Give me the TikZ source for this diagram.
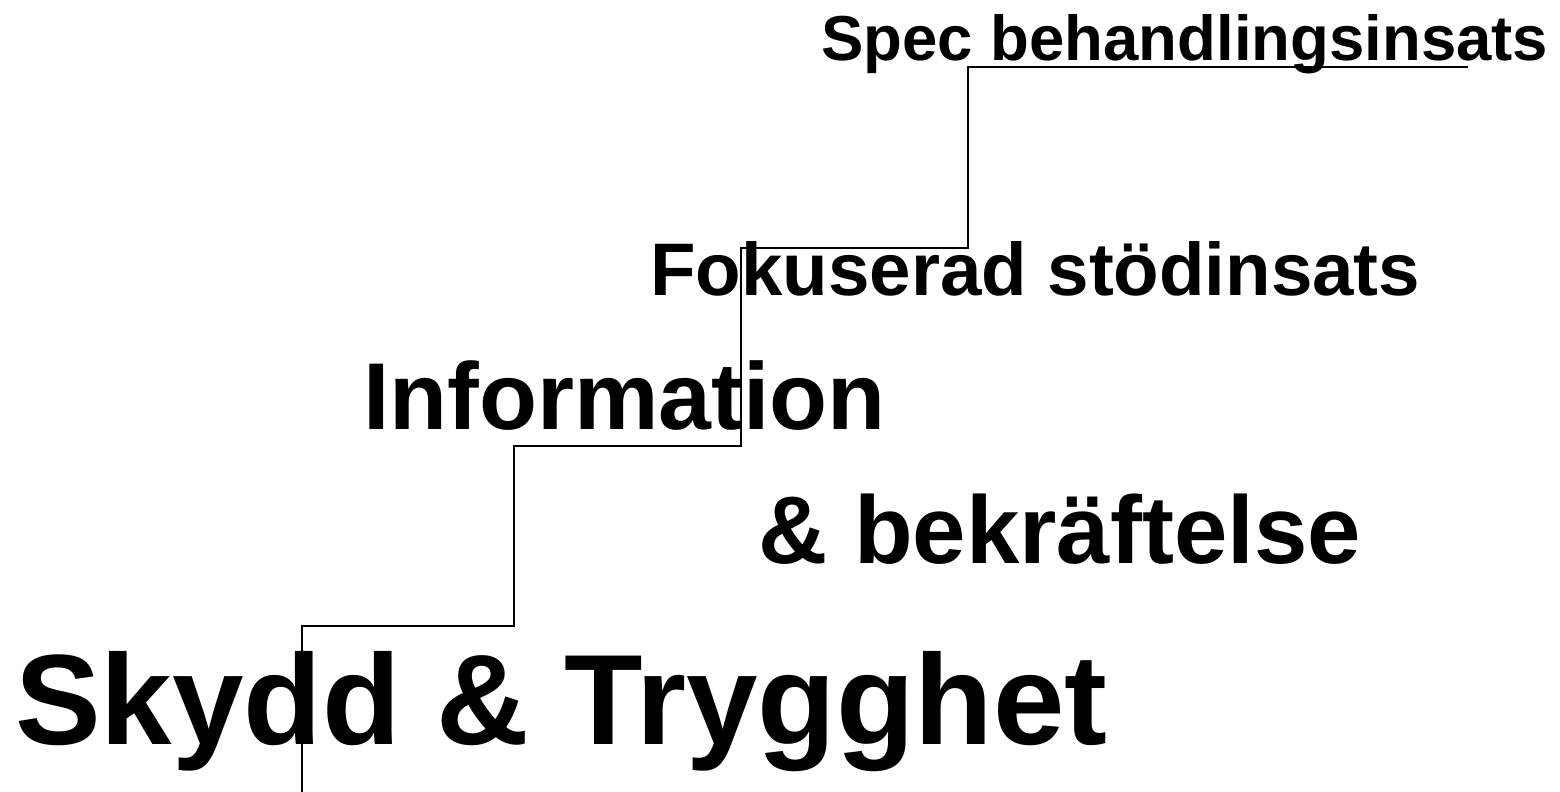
\documentclass[tikz,border=0pt]{standalone}
\usepackage{fontspec}
\setmainfont{Liberation Sans}
\begin{document}
\begin{tikzpicture}[x=1pt,y=-1pt,
  lbl/.style={anchor=base west,inner sep=0pt,font=\bfseries},
  stair/.style={draw=black,line width=1.6pt}]
\useasboundingbox (0,0) rectangle (1560,792);
\node[lbl,font=\fontsize{128.5}{150}\selectfont\bfseries] (skydd) at (15,744) {Skydd \& Trygghet};
\node[lbl,font=\fontsize{95}{110}\selectfont\bfseries] (info) at (363,429) {Information};
\node[lbl,font=\fontsize{96}{110}\selectfont\bfseries] (bekr) at (758,563) {\& bekräftelse};
\node[lbl,font=\fontsize{74.5}{90}\selectfont\bfseries] (fok) at (650,295) {Fokuserad stödinsats};
\node[lbl,font=\fontsize{63.5}{75}\selectfont\bfseries] (spec) at (821,60) {Spec behandlingsinsats};
\coordinate (s0) at (302,792);
\coordinate (s1) at (302,626);
\coordinate (s2) at (514,626);
\coordinate (s3) at (514,446);
\coordinate (s4) at (741,446);
\coordinate (s5) at (741,248);
\coordinate (s6) at (968,248);
\coordinate (s7) at (968,67);
\coordinate (s8) at (1468,67);
\draw[stair] (s0) -- (s1) -- (s2) -- (s3) -- (s4) -- (s5) -- (s6) -- (s7) -- (s8);
\end{tikzpicture}
\end{document}
